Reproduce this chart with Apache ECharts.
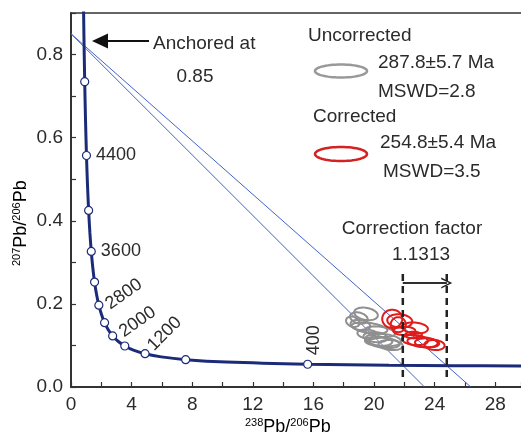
<!DOCTYPE html>
<html><head><meta charset="utf-8">
<script src="https://cdn.jsdelivr.net/npm/echarts@6/dist/echarts.min.js"></script>
<style>html,body{margin:0;padding:0;background:#fff}#c{width:521px;height:436px}</style>
</head><body><div id="c"></div>
<script>
// Concordia curve (238U/206Pb, 207Pb/206Pb)
const concordiaX = [29.7, 25.29, 20.99, 15.62, 10.25, 7.568, 5.959, 4.888, 4.1225, 3.5495, 3.1043, 2.749, 2.4587, 2.217, 2.0128, 1.8383, 1.6874, 1.5552, 1.4398, 1.337, 1.2452, 1.163, 1.0888, 1.0217, 0.9603, 0.9045, 0.8534, 0.8062];
const concordiaY = [0.05044, 0.05121, 0.05233, 0.05469, 0.0599, 0.0658, 0.07249, 0.08012, 0.08881, 0.09871, 0.11003, 0.12299, 0.13782, 0.15483, 0.17437, 0.19681, 0.22266, 0.25242, 0.28674, 0.32636, 0.37204, 0.42499, 0.4862, 0.55712, 0.6393, 0.73462, 0.8453, 0.9737];
// Age markers on the concordia (Ma)
const markerAges = [400, 800, 1200, 1600, 2000, 2400, 2800, 3200, 3600, 4000, 4400, 4800];
const markerX = [15.62, 7.568, 4.888, 3.5495, 2.749, 2.217, 1.8383, 1.5552, 1.337, 1.163, 1.0217, 0.9045];
const markerY = [0.05469, 0.0658, 0.08012, 0.09871, 0.12299, 0.15483, 0.19681, 0.25242, 0.32636, 0.42499, 0.55712, 0.73462];
const labelledAges = [400, 1200, 2000, 2800, 3600, 4400];
// Discordia lines anchored at 207Pb/206Pb = 0.85
const anchorY = 0.85;
const discordiaInterceptX = [23.33, 26.39]; // uncorrected, corrected
// Correction factor bounds
const correctionX = [21.9, 24.8];
const correctionYRange = [0.024, 0.28];
const correctionArrowY = 0.25;
// Axis tick labels
const xTickValues = [0, 4, 8, 12, 16, 20, 24, 28];
const yTickValues = [0.0, 0.2, 0.4, 0.6, 0.8];
// Ellipses: [x, y, semi-axis x, semi-axis y, tilt deg]
const uncorrectedEllipses = [
  [19.47, 0.176, 0.79, 0.0145, 10], [19.0, 0.166, 0.6, 0.013, 15], [18.6, 0.157, 0.46, 0.012, 20],
  [19.1, 0.149, 0.66, 0.012, 10], [19.7, 0.142, 1.19, 0.012, 8], [20.4, 0.133, 1.0, 0.012, 8],
  [20.1, 0.12, 0.8, 0.012, 5], [20.6, 0.113, 1.19, 0.0145, 5], [20.7, 0.106, 1.0, 0.012, 5],
  [21.1, 0.101, 0.8, 0.012, 5], [20.3, 0.11, 0.9, 0.011, 3], [19.6, 0.127, 0.7, 0.011, 8]
];
const correctedEllipses = [
  [21.2, 0.164, 0.66, 0.022, 0], [21.7, 0.159, 0.83, 0.016, 5], [22.7, 0.142, 0.86, 0.013, 5],
  [22.0, 0.135, 0.73, 0.01, 0], [22.6, 0.125, 0.56, 0.008, 0], [22.7, 0.113, 0.86, 0.012, 5],
  [23.2, 0.108, 1.0, 0.012, 5], [24.0, 0.101, 0.66, 0.012, 5], [23.5, 0.106, 0.8, 0.011, 3],
  [21.6, 0.15, 0.5, 0.018, 0]
];
const legendTexts = ['Uncorrected', '287.8±5.7 Ma', 'MSWD=2.8', 'Corrected', '254.8±5.4 Ma', 'MSWD=3.5'];

const FONT = '"Liberation Sans", Arial, sans-serif';
const TXT = '#2b2b2b';
const NAVY = '#1c2b78';

function ellipsePoints(cx, cy, a, b, th) {
  const pts = [];
  for (let i = 0; i < 60; i++) {
    const t = i / 60 * Math.PI * 2;
    const u = a * Math.cos(t), v = b * Math.sin(t);
    pts.push([cx + u * Math.cos(th) - v * Math.sin(th), cy + u * Math.sin(th) + v * Math.cos(th)]);
  }
  return pts;
}
function ellipseSeries(data, color) {
  return {
    type: 'custom', data: data, silent: true, z: 4,
    encode: { x: 0, y: 1 },
    renderItem: function (params, api) {
      const c = api.coord([api.value(0), api.value(1)]);
      const s = api.size([api.value(2), api.value(3)]);
      const th = api.value(4) * Math.PI / 180;
      return { type: 'polygon', shape: { points: ellipsePoints(c[0], c[1], s[0], s[1], th) },
        style: { fill: 'none', stroke: color, lineWidth: 2 } };
    }
  };
}
// label offset given in screen pixels; converted into the rotated label frame
function rotOffset(sx, sy, deg) {
  const t = deg * Math.PI / 180;
  return [sx * Math.cos(t) - sy * Math.sin(t), sx * Math.sin(t) + sy * Math.cos(t)];
}
const labelCfg = {
  400: { position: 'inside', offset: rotOffset(6, -24, 90), rotate: 90 },
  1200: { position: 'inside', offset: rotOffset(19.5, -20, 45), rotate: 45 },
  2000: { position: 'inside', offset: rotOffset(25, -14, 35), rotate: 35 },
  2800: { position: 'inside', offset: rotOffset(25, -11, 35), rotate: 35 },
  3600: { position: 'right', distance: 5 },
  4400: { position: 'right', distance: 5 }
};

const markerData = markerAges.map((age, i) => {
  const d = { value: [markerX[i], markerY[i]] };
  if (labelledAges.indexOf(age) >= 0) {
    d.label = Object.assign({ show: true, formatter: String(age), color: TXT, fontSize: 18, fontFamily: FONT,
      align: labelCfg[age].position === 'right' ? 'left' : 'center', verticalAlign: 'middle' }, labelCfg[age]);
  }
  return d;
});

const concordiaData = concordiaX.map((x, i) => [x, concordiaY[i]]);
const discordiaSeries = discordiaInterceptX.map(xi => ({
  type: 'line', data: [[0, anchorY], [xi, 0]], symbol: 'none', silent: true, z: 1,
  lineStyle: { color: '#4064c8', width: 1 }
}));
const dashedSeries = correctionX.map(x => ({
  type: 'line', data: [[x, correctionYRange[0]], [x, correctionYRange[1]]], symbol: 'none', silent: true, z: 6,
  lineStyle: { color: '#222', width: 2.5, type: [7, 5] }
}));

const sup = { fontSize: 11, fontFamily: FONT, color: TXT, padding: [0, 0, 9, 0] };
const nrm = { fontSize: 18, fontFamily: FONT, color: TXT };

const graphics = [
  // axis names
  { type: 'text', left: 245, top: 417, style: { text: '{s|238}{n|Pb/}{s|206}{n|Pb}', rich: { s: sup, n: nrm } } },
  { type: 'text', x: 21, y: 266, rotation: Math.PI / 2, style: { text: '{s|207}{n|Pb/}{s|206}{n|Pb}', rich: { s: sup, n: nrm }, verticalAlign: 'middle' } },
  // anchor arrow
  { type: 'line', shape: { x1: 106, y1: 41, x2: 149, y2: 41 }, style: { stroke: '#111', lineWidth: 2 } },
  { type: 'polygon', shape: { points: [[92, 41], [108, 33.5], [108, 48.5]] }, style: { fill: '#111' } },
  { type: 'text', x: 153, y: 44, style: { text: 'Anchored at', font: '19px ' + FONT, fill: TXT, verticalAlign: 'middle' } },
  { type: 'text', x: 195, y: 77, style: { text: '0.85', font: '19px ' + FONT, fill: TXT, align: 'center', verticalAlign: 'middle' } },
  // legend
  { type: 'text', x: 308, y: 36, style: { text: legendTexts[0], font: '19px ' + FONT, fill: TXT, verticalAlign: 'middle' } },
  { type: 'polygon', shape: { points: ellipsePoints(341, 71, 26, 6.5, 0) }, style: { fill: 'none', stroke: '#999', lineWidth: 2.5 } },
  { type: 'text', x: 378, y: 63, style: { text: legendTexts[1], font: '19px ' + FONT, fill: TXT, verticalAlign: 'middle' } },
  { type: 'text', x: 378, y: 92, style: { text: legendTexts[2], font: '19px ' + FONT, fill: TXT, verticalAlign: 'middle' } },
  { type: 'text', x: 313, y: 117, style: { text: legendTexts[3], font: '19px ' + FONT, fill: TXT, verticalAlign: 'middle' } },
  { type: 'polygon', shape: { points: ellipsePoints(341, 154, 26, 7, 0) }, style: { fill: 'none', stroke: '#d42222', lineWidth: 2.5 } },
  { type: 'text', x: 380, y: 143, style: { text: legendTexts[4], font: '19px ' + FONT, fill: TXT, verticalAlign: 'middle' } },
  { type: 'text', x: 383, y: 172, style: { text: legendTexts[5], font: '19px ' + FONT, fill: TXT, verticalAlign: 'middle' } },
  // correction factor
  { type: 'text', x: 412, y: 229, style: { text: 'Correction factor', font: '19px ' + FONT, fill: TXT, align: 'center', verticalAlign: 'middle' } },
  { type: 'text', x: 421, y: 255, style: { text: '1.1313', font: '19px ' + FONT, fill: TXT, align: 'center', verticalAlign: 'middle' } }
];

const xMax = 29.7, yMax = 0.9;
const chart = echarts.init(document.getElementById('c'), null, { renderer: 'canvas' });
chart.setOption({
  animation: false,
  backgroundColor: '#fff',
  grid: { left: 71, top: 13, right: 0, bottom: 49 },
  xAxis: [{
    type: 'value', min: 0, max: xMax, interval: 4,
    axisLine: { onZero: false, lineStyle: { color: '#333', width: 2 } },
    axisTick: { inside: true, length: 5, lineStyle: { color: '#333', width: 1.2 } },
    minorTick: { show: true, splitNumber: 2, length: 5, lineStyle: { color: '#333', width: 1.2 } },
    splitLine: { show: false },
    axisLabel: { color: TXT, fontSize: 19, fontFamily: FONT, margin: 8, showMaxLabel: false,
      formatter: v => (xTickValues.indexOf(v) >= 0 ? String(v) : '') }
  }, {
    type: 'value', position: 'top', min: 0, max: xMax,
    axisLine: { show: true, onZero: false, lineStyle: { color: '#333', width: 1.5 } },
    axisTick: { show: false }, axisLabel: { show: false }, splitLine: { show: false }
  }],
  yAxis: {
    type: 'value', min: 0, max: yMax, interval: 0.2,
    axisLine: { onZero: false, lineStyle: { color: '#333', width: 2 } },
    axisTick: { inside: true, length: 5, lineStyle: { color: '#333', width: 1.2 } },
    minorTick: { show: true, splitNumber: 2, length: 5, lineStyle: { color: '#333', width: 1.2 } },
    splitLine: { show: false },
    axisLabel: { color: TXT, fontSize: 19, fontFamily: FONT, margin: 8, showMaxLabel: false,
      formatter: v => (yTickValues.some(t => Math.abs(t - v) < 1e-9) ? v.toFixed(1) : '') }
  },
  series: [
    ...discordiaSeries,
    { type: 'line', data: concordiaData, smooth: 0.3, symbol: 'none', silent: true, z: 2,
      lineStyle: { color: NAVY, width: 3 } },
    ellipseSeries(uncorrectedEllipses, '#8f8f8f'),
    ellipseSeries(correctedEllipses, '#e01b1b'),
    ...dashedSeries,
    { type: 'line', data: [[correctionX[0], correctionArrowY], [correctionX[1], correctionArrowY]], symbol: 'none', silent: true, z: 6,
      lineStyle: { color: '#222', width: 1.5 },
      markLine: { silent: true, symbol: ['none', 'path://M0,10 L5,0 L10,10 L8.6,10 L5,2.8 L1.4,10 Z'], symbolSize: 11,
        label: { show: false }, lineStyle: { color: '#222', width: 1.5, type: 'solid' },
        data: [[{ coord: [correctionX[0], correctionArrowY] }, { coord: [correctionX[1], correctionArrowY] }]] } },
    { type: 'scatter', data: markerData, symbol: 'circle', symbolSize: 8, silent: true, z: 7,
      itemStyle: { color: '#fff', borderColor: NAVY, borderWidth: 1.2, opacity: 1 } }
  ],
  graphic: graphics
});
</script></body></html>
